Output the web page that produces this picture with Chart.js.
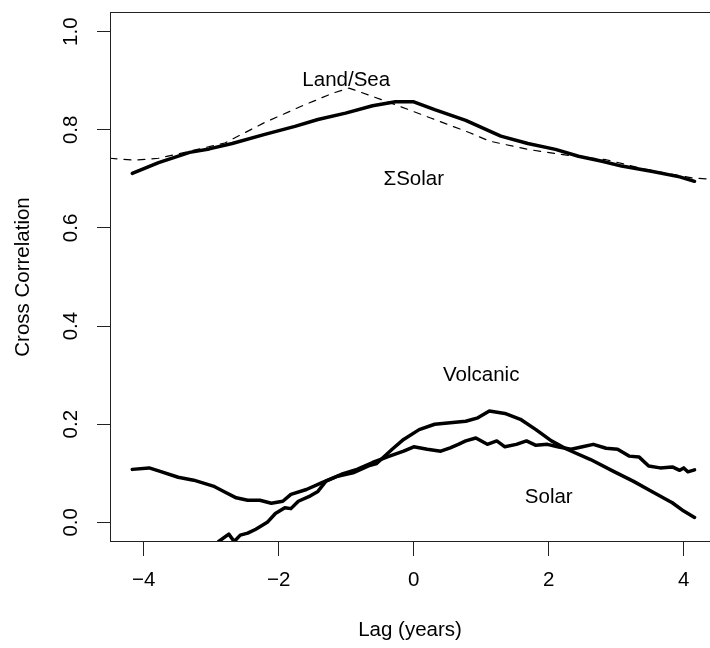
<!DOCTYPE html>
<html>
<head>
<meta charset="utf-8">
<script src="https://cdn.jsdelivr.net/npm/chart.js@4"></script>
<style>
  html, body { margin: 0; padding: 0; background: #fff; }
</style>
</head>
<body>
<canvas id="ccf-chart" width="710" height="648"></canvas>
<script>
// lag in years, cross correlation
const sumSolarLag  = [-4.17,-3.78,-3.32,-3.03,-2.69,-2.22,-1.76,-1.42,-1.01,-0.61,-0.27,0.0,0.31,0.77,1.29,1.69,2.10,2.44,2.79,3.08,3.54,3.94,4.16];
const sumSolarCorr = [0.711,0.733,0.754,0.761,0.772,0.790,0.807,0.821,0.834,0.849,0.857,0.857,0.841,0.819,0.787,0.772,0.760,0.746,0.736,0.726,0.715,0.704,0.695];

const landSeaLag  = [-4.5,-4.13,-3.78,-3.49,-2.80,-2.22,-1.65,-1.19,-0.96,-0.61,-0.27,0.25,0.83,1.12,1.69,2.33,2.85,3.42,4.12,4.45];
const landSeaCorr = [0.742,0.738,0.742,0.751,0.773,0.814,0.849,0.875,0.885,0.868,0.851,0.824,0.794,0.777,0.760,0.747,0.739,0.720,0.702,0.699];

const solarLag  = [-4.17,-3.92,-3.78,-3.49,-3.26,-2.97,-2.80,-2.63,-2.46,-2.28,-2.11,-1.94,-1.82,-1.59,-1.36,-1.07,-0.84,-0.61,-0.38,-0.15,0.0,0.20,0.40,0.54,0.66,0.77,0.92,1.09,1.23,1.35,1.52,1.67,1.81,1.98,2.13,2.33,2.50,2.66,2.85,3.02,3.19,3.34,3.48,3.65,3.83,3.94,4.00,4.06,4.16];
const solarCorr = [0.108,0.111,0.105,0.092,0.086,0.074,0.062,0.050,0.045,0.045,0.039,0.043,0.057,0.067,0.081,0.098,0.108,0.122,0.134,0.145,0.154,0.149,0.145,0.152,0.159,0.166,0.172,0.159,0.166,0.154,0.159,0.166,0.157,0.159,0.154,0.149,0.154,0.159,0.151,0.149,0.135,0.133,0.115,0.111,0.113,0.106,0.111,0.103,0.107];

const volcanicLag  = [-2.95,-2.89,-2.74,-2.66,-2.57,-2.46,-2.34,-2.17,-2.05,-1.91,-1.82,-1.71,-1.53,-1.42,-1.30,-1.13,-0.90,-0.67,-0.55,-0.32,-0.15,0.08,0.31,0.54,0.77,0.95,1.12,1.35,1.58,1.81,2.04,2.27,2.62,2.96,3.25,3.54,3.83,4.00,4.16];
const volcanicCorr = [-0.06,-0.039,-0.024,-0.039,-0.026,-0.022,-0.014,0.0,0.018,0.030,0.028,0.043,0.054,0.063,0.084,0.094,0.101,0.115,0.120,0.149,0.169,0.189,0.200,0.203,0.206,0.213,0.227,0.222,0.210,0.189,0.166,0.149,0.128,0.104,0.084,0.062,0.040,0.023,0.010];

const xTicks = [-4, -2, 0, 2, 4];
const yTicks = [0, 0.2, 0.4, 0.6, 0.8, 1.0];

// curve labels, placed in data units
const labelText = ["Land/Sea", "\u03A3Solar", "Volcanic", "Solar"];
const labelLag  = [-1, 0, 1, 2];
const labelCorr = [0.9, 0.7, 0.3, 0.05];

const FONT = '"Liberation Sans", Arial, Helvetica, sans-serif';
const FS = 20.5;
Chart.defaults.font.family = FONT;
Chart.defaults.font.size = FS;
Chart.defaults.color = '#000';

function pts(xs, ys) {
  return xs.map((v, i) => ({ x: v, y: ys[i] }));
}
function minus(v) {
  return v < 0 ? '\u2212' + Math.abs(v) : String(v);
}

// frame, y tick labels (rotated like R) and text labels
const rDecor = {
  id: 'rDecor',
  afterDraw(chart) {
    const { ctx, chartArea: a, scales: { x, y } } = chart;
    ctx.save();
    ctx.strokeStyle = '#222';
    ctx.lineWidth = 1;
    ctx.strokeRect(Math.round(a.left) + 0.5, Math.round(a.top) + 0.5, a.right - a.left + 20, Math.round(a.bottom - a.top) - 1);

    ctx.fillStyle = '#000';
    ctx.font = FS + 'px ' + FONT;
    ctx.textAlign = 'center';
    ctx.textBaseline = 'middle';
    yTicks.forEach(v => {
      ctx.save();
      ctx.translate(y.right - 39, y.getPixelForValue(v));
      ctx.rotate(-Math.PI / 2);
      ctx.fillText(v.toFixed(1), 0, 0);
      ctx.restore();
    });
    labelText.forEach((t, i) => {
      ctx.fillText(t, x.getPixelForValue(labelLag[i]), y.getPixelForValue(labelCorr[i]));
    });
    ctx.restore();
  }
};

const thick = { borderColor: '#000', borderWidth: 3.5, pointRadius: 0, fill: false, clip: 0 };

new Chart(document.getElementById("ccf-chart"), {
  type: 'line',
  data: {
    datasets: [
      Object.assign({ label: 'SumSolar', data: pts(sumSolarLag, sumSolarCorr) }, thick),
      { label: 'Land/Sea', data: pts(landSeaLag, landSeaCorr), borderColor: '#000', borderWidth: 1.2,
        borderDash: [7, 7], pointRadius: 0, fill: false, clip: 0 },
      Object.assign({ label: 'Solar', data: pts(solarLag, solarCorr) }, thick),
      Object.assign({ label: 'Volcanic', data: pts(volcanicLag, volcanicCorr) }, thick)
    ]
  },
  options: {
    responsive: false,
    animation: false,
    layout: { padding: { top: 12, right: 0, bottom: 0, left: 0 } },
    elements: { line: { tension: 0, borderCapStyle: 'round', borderJoinStyle: 'round' } },
    plugins: { legend: { display: false }, tooltip: { enabled: false } },
    scales: {
      x: {
        type: 'linear',
        min: -4.5,
        max: 4.3889,
        afterBuildTicks: s => { s.ticks = xTicks.map(v => ({ value: v })); },
        afterFit: s => { s.height = 106; },
        border: { display: false },
        grid: { drawOnChartArea: false, drawTicks: true, tickLength: 14, color: '#222', tickColor: '#222' },
        ticks: { padding: 12, maxRotation: 0, autoSkip: false, callback: v => minus(v) },
        title: { display: true, text: 'Lag (years)', padding: { top: 0, bottom: 5 } }
      },
      y: {
        type: 'linear',
        min: -0.04,
        max: 1.04,
        afterBuildTicks: s => { s.ticks = yTicks.map(v => ({ value: v })); },
        afterFit: s => { s.width = 110; },
        border: { display: false },
        grid: { drawOnChartArea: false, drawTicks: true, tickLength: 13, color: '#222', tickColor: '#222' },
        ticks: { display: false },
        title: { display: true, text: 'Cross Correlation', padding: { top: 11, bottom: 0 } }
      }
    }
  },
  plugins: [rDecor]
});
</script>
</body>
</html>
